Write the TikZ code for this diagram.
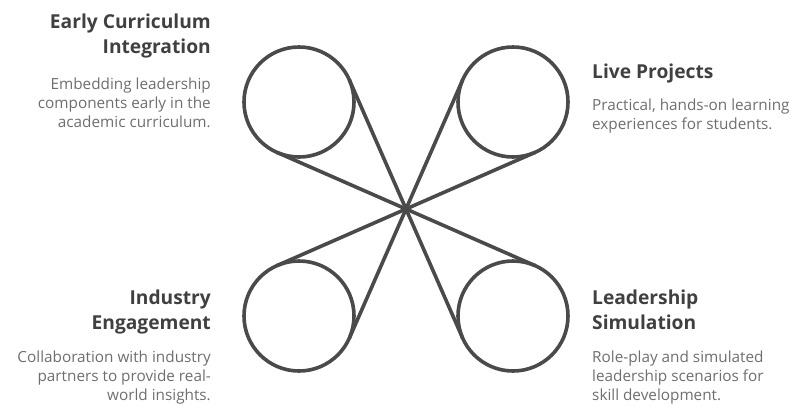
\documentclass[tikz,border=0pt]{standalone}
\usepackage{fontspec}
\setmainfont{Open Sans}
\usetikzlibrary{calc}
\definecolor{ringgray}{HTML}{4A4A4A}
\definecolor{titlegray}{HTML}{404040}
\definecolor{descgray}{HTML}{6E6E6E}

\begin{document}
\begin{tikzpicture}[
    x=1pt, y=-1pt,
    ring/.style={
        draw=ringgray,
        line width=3.6pt,
        circle,
        minimum size=110pt,
        inner sep=0pt,
        outer sep=0pt
    },
    spoke/.style={draw=ringgray, line width=3.6pt, line join=round, line cap=round},
    heading/.style={
        font=\fontsize{19.2}{25}\selectfont\bfseries,
        text=titlegray,
        inner sep=0pt
    },
    blurb/.style={
        font=\fontsize{15.3}{19}\selectfont,
        text=descgray,
        inner sep=0pt
    }
]
\useasboundingbox (0,0) rectangle (796,405);

\coordinate (hub) at (406,209);

\node[ring] (early) at (299,102) {};
\node[ring] (live) at (513,102) {};
\node[ring] (industry) at (299,316) {};
\node[ring] (simulation) at (513,316) {};

\foreach \c in {early,live,industry,simulation}{
    \draw[spoke] (hub) -- (tangent cs:node=\c,point={(hub)},solution=1);
    \draw[spoke] (hub) -- (tangent cs:node=\c,point={(hub)},solution=2);
}

\node[heading, anchor=north east, align=right] (earlyT) at (211,14) {Early Curriculum\\Integration};
\node[blurb, anchor=north east, align=right] (earlyD) at (211,78)
    {Embedding leadership\\components early in the\\academic curriculum.};

\node[heading, anchor=north west, align=left] (liveT) at (592,64) {Live Projects};
\node[blurb, anchor=north west, align=left] (liveD) at (592,99)
    {Practical, hands-on learning\\experiences for students.};

\node[heading, anchor=north east, align=right] (industryT) at (211,290) {Industry\\Engagement};
\node[blurb, anchor=north east, align=right] (industryD) at (211,351)
    {Collaboration with industry\\partners to provide real-\\world insights.};

\node[heading, anchor=north west, align=left] (simulationT) at (592,290) {Leadership\\Simulation};
\node[blurb, anchor=north west, align=left] (simulationD) at (592,351)
    {Role-play and simulated\\leadership scenarios for\\skill development.};

\end{tikzpicture}
\end{document}
